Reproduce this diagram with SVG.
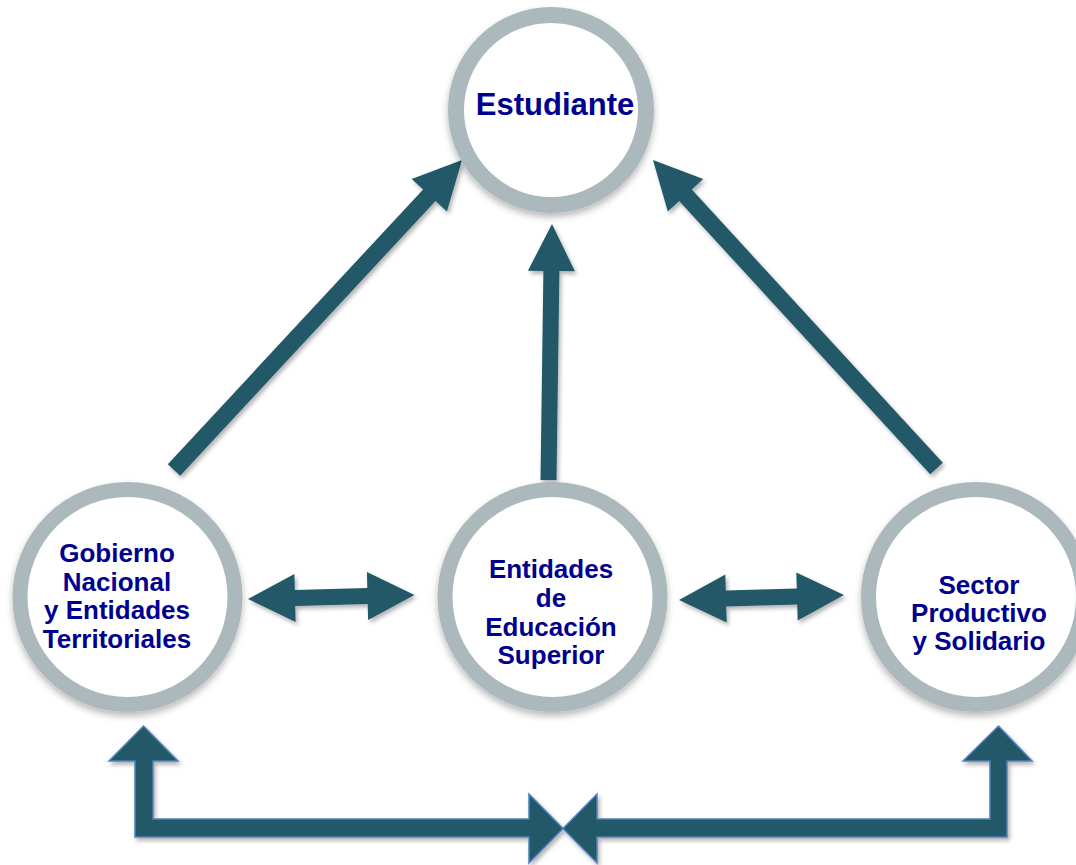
<svg xmlns="http://www.w3.org/2000/svg" width="1076" height="865" viewBox="0 0 1076 865">
  <defs>
    <filter id="shCircle" x="-20%" y="-20%" width="140%" height="150%">
      <feDropShadow dx="0" dy="4" stdDeviation="3.5" flood-color="#000" flood-opacity="0.28"/>
    </filter>
    <filter id="shArrow" x="-10%" y="-10%" width="130%" height="130%">
      <feDropShadow dx="2" dy="3" stdDeviation="2" flood-color="#000" flood-opacity="0.3"/>
    </filter>
  </defs>
  <style>
    .ring { fill: #ffffff; stroke: #acb9bc; stroke-width: 15; }
    .arrow { fill: #225968; }
    .outlined { fill: #225968; stroke: #4f81bd; stroke-width: 1.5; stroke-linejoin: miter; }
    .label { font-family: "Liberation Sans", Arial, sans-serif; font-weight: bold; font-size: 26px; fill: #00008f; text-anchor: middle; }
  </style>
  <rect width="1076" height="865" fill="#ffffff"/>

  <g id="connectors" filter="url(#shArrow)">
    <polygon class="arrow" points="167.8,464.2 423.1,189.4 411.7,178.9 462,160 446.9,211.5 435.5,201 180.2,475.8"/>
    <polygon class="arrow" points="942.8,462.8 691.8,189.6 703.2,179.1 653,160 667.8,211.5 679.2,201.1 930.2,474.3"/>
    <polygon class="arrow" points="540.5,479.9 543.4,270.9 527.9,270.7 552,224 574.9,271.3 559.4,271.1 556.5,480.1"/>
    <polygon class="arrow" points="248,599 294.4,573.9 294.8,589.9 367.3,588.1 366.9,572.1 414.5,595 368.1,620.1 367.7,604.1 295.2,605.9 295.6,621.9"/>
    <polygon class="arrow" points="679,600 725.3,574.6 725.8,590.6 796.8,588.4 796.3,572.4 844,595 797.7,620.4 797.2,604.4 726.2,606.6 726.7,622.6"/>
    <polygon class="outlined" points="143.5,726 178,761 153,761 153,819 529,819 529,794 563,828.5 529,863 529,837 135,837 135,761 109,761"/>
    <polygon class="outlined" points="563,828.5 597,794 597,819 990,819 990,761 963,761 998.5,726 1032,761 1007,761 1007,837 597,837 597,863"/>
  </g>

  <g id="node-estudiante">
    <circle class="ring" cx="551" cy="110" r="95" style="stroke-width:16" filter="url(#shCircle)"/>
    <text class="label" x="555" y="115" style="font-size:31px">Estudiante</text>
  </g>

  <g id="node-gobierno">
    <circle class="ring" cx="127.5" cy="597" r="107.5" filter="url(#shCircle)"/>
    <text class="label" x="117" y="562">Gobierno</text>
    <text class="label" x="117" y="591">Nacional</text>
    <text class="label" x="117" y="619">y Entidades</text>
    <text class="label" x="117" y="648">Territoriales</text>
  </g>

  <g id="node-educacion">
    <circle class="ring" cx="552.5" cy="597" r="107.5" filter="url(#shCircle)"/>
    <text class="label" x="551" y="578">Entidades</text>
    <text class="label" x="551" y="607">de</text>
    <text class="label" x="551" y="636">Educación</text>
    <text class="label" x="551" y="664">Superior</text>
  </g>

  <g id="node-sector">
    <circle class="ring" cx="976" cy="597" r="107.5" filter="url(#shCircle)"/>
    <text class="label" x="979" y="594">Sector</text>
    <text class="label" x="979" y="622">Productivo</text>
    <text class="label" x="979" y="650">y Solidario</text>
  </g>
</svg>
